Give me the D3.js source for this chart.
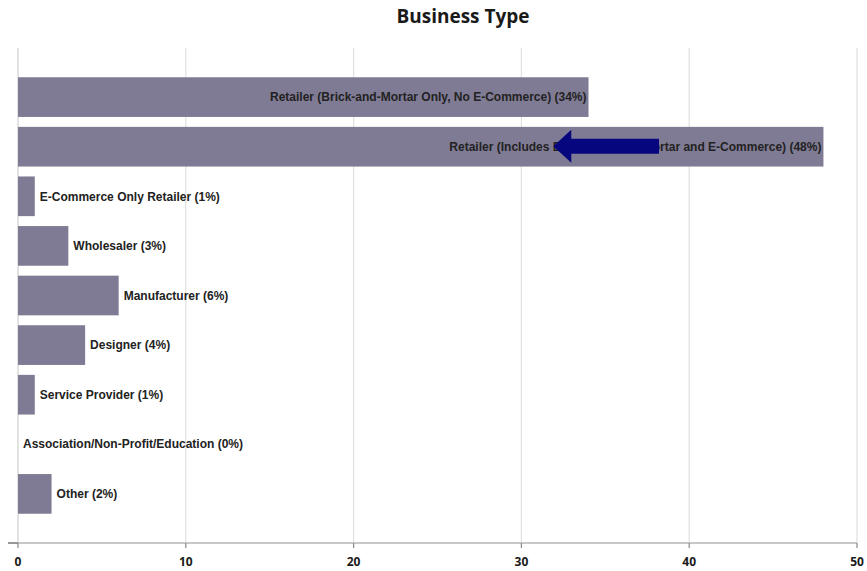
<!DOCTYPE html>
<html>
<head>
<meta charset="utf-8">
<script src="https://cdn.jsdelivr.net/npm/d3@7"></script>
<style>
  html, body { margin: 0; padding: 0; background: #fff; }
  svg { display: block; }
</style>
</head>
<body>
<svg id="chart" width="867" height="571"></svg>
<script>
const title = "Business Type";
const categories = [
  "Retailer (Brick-and-Mortar Only, No E-Commerce)",
  "Retailer (Includes Both Brick-and-Mortar and E-Commerce)",
  "E-Commerce Only Retailer",
  "Wholesaler",
  "Manufacturer",
  "Designer",
  "Service Provider",
  "Association/Non-Profit/Education",
  "Other"
];
const values = [34, 48, 1, 3, 6, 4, 1, 0, 2];
const percents = [34, 48, 1, 3, 6, 4, 1, 0, 2];
const tickValues = [0, 10, 20, 30, 40, 50];
// annotation arrow (in data units) on the second bar
const arrowFrom = 38.2, arrowTo = 31.9, arrowCategory = 1;

const svg = d3.select("#chart");
const margin = {left: 18, right: 10, top: 48, bottom: 28};
const W = 867, H = 571;
const plotBottom = H - margin.bottom;

const x = d3.scaleLinear().domain([0, 50]).range([margin.left, W - margin.right]);
const y = d3.scaleBand().domain(d3.range(categories.length))
  .range([margin.top, plotBottom]).paddingInner(0.2).paddingOuter(0.59);

// title
svg.append("text")
  .attr("x", 463).attr("y", 23)
  .attr("text-anchor", "middle")
  .style("font-family", "'Open Sans', 'Noto Sans', sans-serif")
  .style("font-weight", "bold").style("font-size", "19px")
  .style("fill", "#1a1a1a")
  .text(title);

// gridlines
svg.append("g").selectAll("line").data(tickValues).join("line")
  .attr("x1", d => x(d)).attr("x2", d => x(d))
  .attr("y1", margin.top).attr("y2", plotBottom)
  .attr("stroke", d => d === 0 ? "#cfcfcf" : "#e0e0e0")
  .attr("stroke-width", 1.2);

// bars
const barColor = "#807b94";
svg.append("g").selectAll("rect").data(values).join("rect")
  .attr("x", x(0))
  .attr("y", (d, i) => y(i))
  .attr("width", d => x(d) - x(0))
  .attr("height", y.bandwidth())
  .attr("fill", barColor);

// labels
svg.append("g").selectAll("text").data(values).join("text")
  .attr("x", d => d >= 20 ? x(d) - 2 : x(d) + 5)
  .attr("y", (d, i) => y(i) + y.bandwidth() / 2)
  .attr("dy", "0.35em")
  .attr("text-anchor", d => d >= 20 ? "end" : "start")
  .style("font-family", "'Liberation Sans', Arial, sans-serif")
  .style("font-weight", "bold").style("font-size", "12px")
  .style("fill", "#222")
  .text((d, i) => `${categories[i]} (${percents[i]}%)`);

// arrow annotation
const ay = y(arrowCategory) + y.bandwidth() / 2 - 0.5;
const ax0 = x(arrowFrom), ax1 = x(arrowTo);
const headLen = 18, shaftHalf = 7.5, headHalf = 16.5;
const arrowPath = d3.path();
arrowPath.moveTo(ax1, ay);
arrowPath.lineTo(ax1 + headLen, ay - headHalf);
arrowPath.lineTo(ax1 + headLen, ay - shaftHalf);
arrowPath.lineTo(ax0, ay - shaftHalf);
arrowPath.lineTo(ax0, ay + shaftHalf);
arrowPath.lineTo(ax1 + headLen, ay + shaftHalf);
arrowPath.lineTo(ax1 + headLen, ay + headHalf);
arrowPath.closePath();
svg.append("path").attr("d", arrowPath.toString()).attr("fill", "#06067e");

// x axis
const axisG = svg.append("g");
axisG.append("line")
  .attr("x1", x(0) - 10).attr("x2", x(50))
  .attr("y1", plotBottom).attr("y2", plotBottom)
  .attr("stroke", "#c8c8c8").attr("stroke-width", 2);
axisG.append("line")
  .attr("x1", x(0) - 10).attr("x2", x(0))
  .attr("y1", plotBottom).attr("y2", plotBottom)
  .attr("stroke", "#888").attr("stroke-width", 1.5);
axisG.selectAll("line.tick").data(tickValues).join("line")
  .attr("class", "tick")
  .attr("x1", d => x(d)).attr("x2", d => x(d))
  .attr("y1", plotBottom).attr("y2", plotBottom + 5)
  .attr("stroke", "#888").attr("stroke-width", 1.2);
axisG.selectAll("text").data(tickValues).join("text")
  .attr("x", d => x(d)).attr("y", plotBottom + 23)
  .attr("text-anchor", "middle")
  .style("font-family", "'Open Sans', 'Noto Sans', sans-serif")
  .style("font-weight", "bold").style("font-size", "12px")
  .style("fill", "#1a1a1a")
  .text(d => d);
</script>
</body>
</html>
